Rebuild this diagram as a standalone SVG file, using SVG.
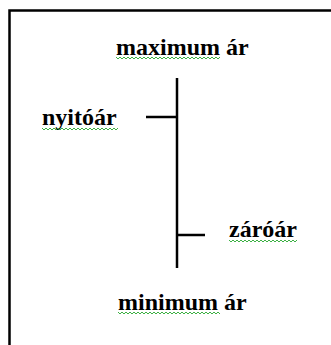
<svg xmlns="http://www.w3.org/2000/svg" width="331" height="345" viewBox="0 0 331 345">
<style>
.t{font-family:"Liberation Serif","Times New Roman",serif;font-weight:bold;font-size:24px;fill:#000}
.l{stroke:#000;stroke-width:2.5;fill:none}
.w{stroke:#3cb043;stroke-width:1;fill:none}
</style>
<rect width="331" height="345" fill="#fff"/>
<g id="frame"><path class="l" d="M9.5,345 V10.5 H331"/></g>
<g id="connectors">
<line class="l" x1="177" y1="78" x2="177" y2="268"/>
<line class="l" x1="146" y1="117" x2="177" y2="117"/>
<line class="l" x1="177" y1="235" x2="205" y2="235"/>
</g>
<g id="max"><text class="t" x="116" y="55">maximum ár</text>
<polyline class="w" points="116,57 118,59 120,57 122,59 124,57 126,59 128,57 130,59 132,57 134,59 136,57 138,59 140,57 142,59 144,57 146,59 148,57 150,59 152,57 154,59 156,57 158,59 160,57 162,59 164,57 166,59 168,57 170,59 172,57 174,59 176,57 178,59 180,57 182,59 184,57 186,59 188,57 190,59 192,57 194,59 196,57 198,59 200,57 202,59 204,57 206,59 208,57 210,59 212,57 214,59 216,57 218,59 220,57"/></g>
<g id="nyito"><text class="t" x="42" y="125">nyitóár</text>
<polyline class="w" points="42,128 44,130 46,128 48,130 50,128 52,130 54,128 56,130 58,128 60,130 62,128 64,130 66,128 68,130 70,128 72,130 74,128 76,130 78,128 80,130 82,128 84,130 86,128 88,130 90,128 92,130 94,128 96,130 98,128 100,130 102,128 104,130 106,128 108,130 110,128 112,130 114,128 116,130 118,128"/></g>
<g id="zaro"><text class="t" x="229" y="237">záróár</text>
<polyline class="w" points="229,240 231,242 233,240 235,242 237,240 239,242 241,240 243,242 245,240 247,242 249,240 251,242 253,240 255,242 257,240 259,242 261,240 263,242 265,240 267,242 269,240 271,242 273,240 275,242 277,240 279,242 281,240 283,242 285,240 287,242 289,240 291,242 293,240 295,242 297,240"/></g>
<g id="min"><text class="t" x="118" y="310">minimum ár</text>
<polyline class="w" points="118,312 120,314 122,312 124,314 126,312 128,314 130,312 132,314 134,312 136,314 138,312 140,314 142,312 144,314 146,312 148,314 150,312 152,314 154,312 156,314 158,312 160,314 162,312 164,314 166,312 168,314 170,312 172,314 174,312 176,314 178,312 180,314 182,312 184,314 186,312 188,314 190,312 192,314 194,312 196,314 198,312 200,314 202,312 204,314 206,312 208,314 210,312 212,314 214,312 216,314 218,312 220,314"/></g>
</svg>
